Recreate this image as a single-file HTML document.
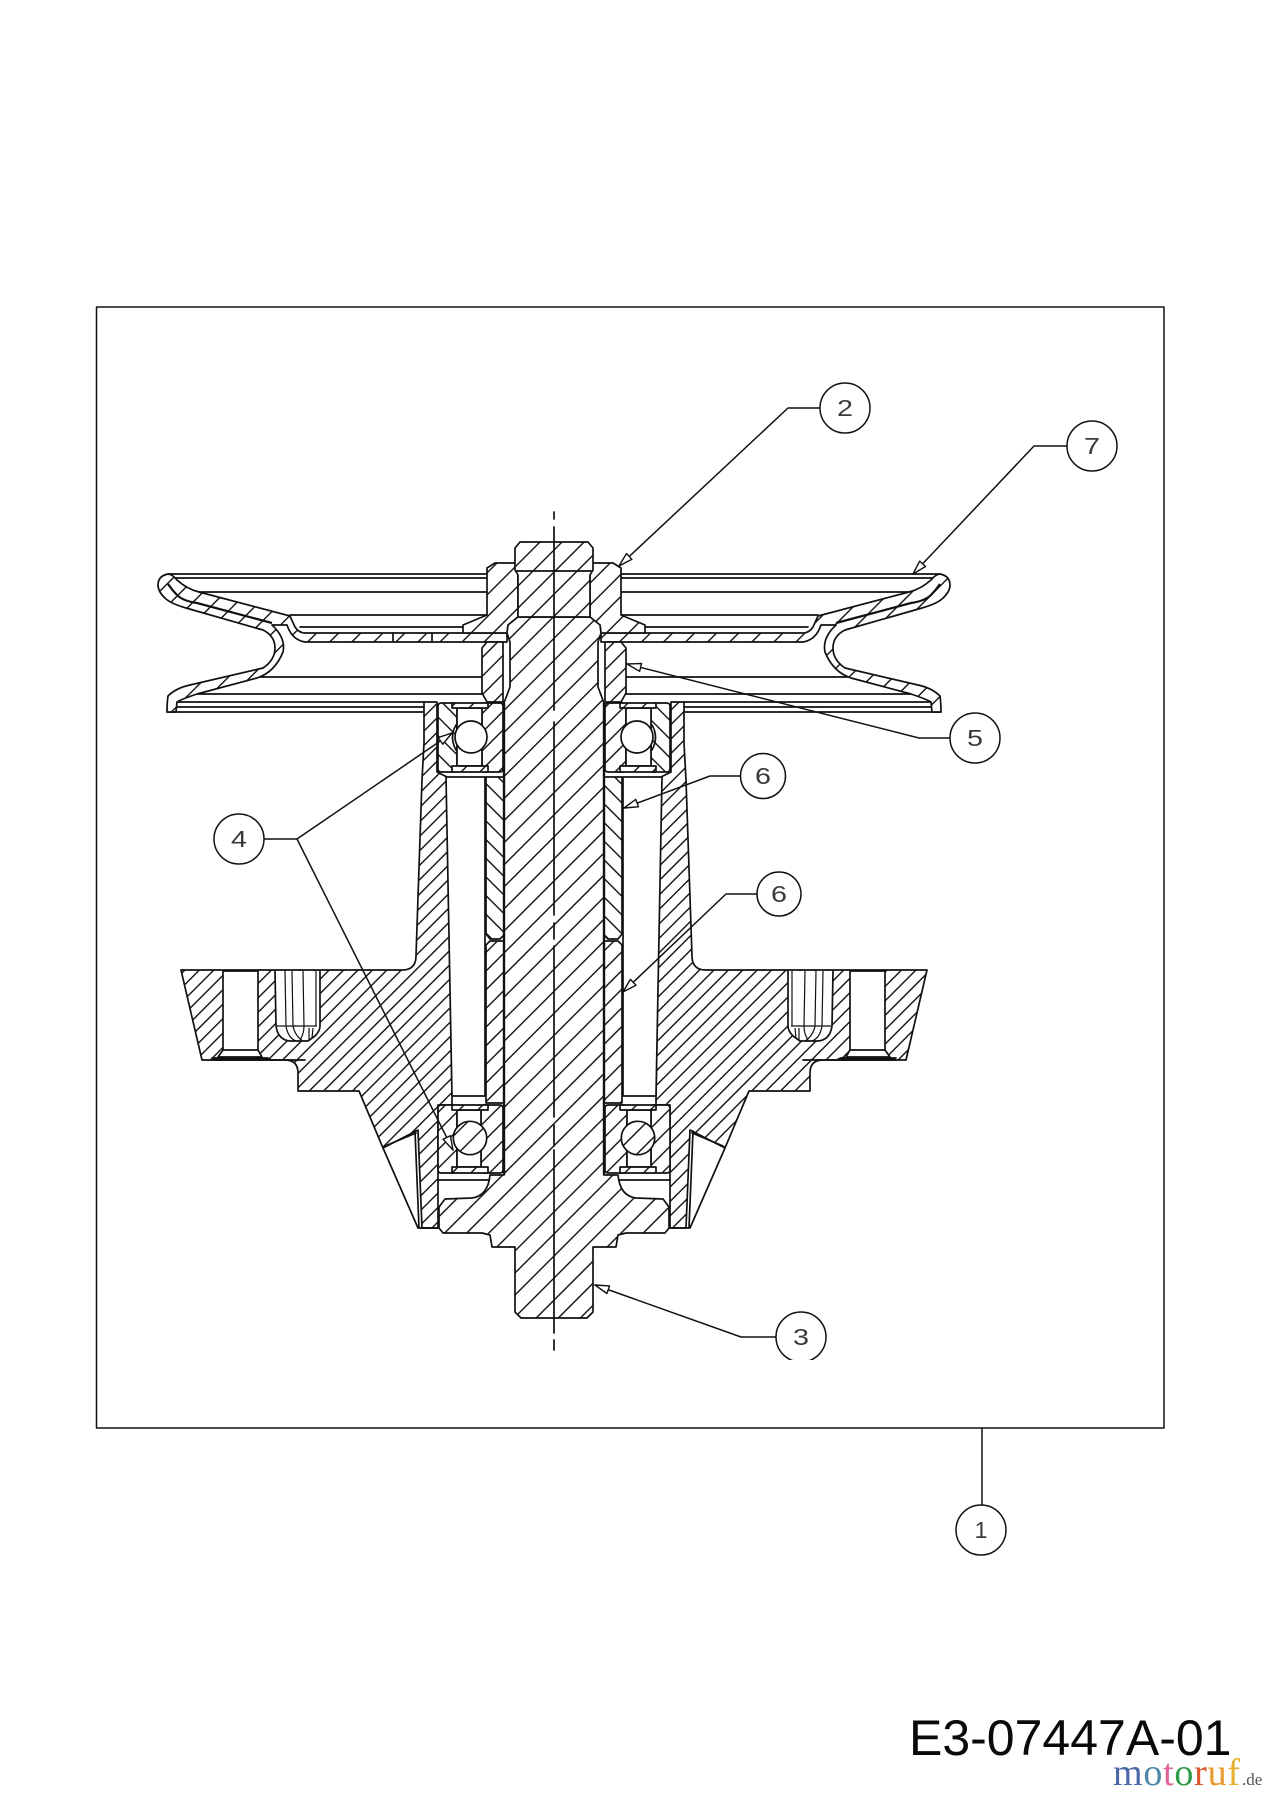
<!DOCTYPE html>
<html><head><meta charset="utf-8"><style>
html,body{margin:0;padding:0;background:#fff}
svg{display:block}
.o{stroke:#111;stroke-width:1.7;stroke-linejoin:round;stroke-linecap:round}
.n{fill:none}
.W{fill:#fff}
.h{fill:var(--h)}.c{fill:var(--c)}.m{fill:var(--m)}.w{fill:var(--w)}
.bt{font-family:"Liberation Sans",sans-serif;font-size:23px;fill:#3a3a3a;text-anchor:middle}
</style></head><body>
<svg xmlns="http://www.w3.org/2000/svg" width="1272" height="1800" viewBox="0 0 1272 1800">
<defs>
<pattern id="h1" patternUnits="userSpaceOnUse" width="10.2" height="10.2" patternTransform="rotate(45)"><rect width="10.2" height="10.2" fill="#fff"/><line x1="0" y1="0" x2="0" y2="10.2" stroke="#111" stroke-width="2.8"/></pattern>
<pattern id="h2" patternUnits="userSpaceOnUse" width="10.2" height="10.2" patternTransform="rotate(-45)"><rect width="10.2" height="10.2" fill="#fff"/><line x1="0" y1="0" x2="0" y2="10.2" stroke="#111" stroke-width="2.8"/></pattern>
<pattern id="m1" patternUnits="userSpaceOnUse" width="13.2" height="13.2" patternTransform="rotate(45)"><rect width="13.2" height="13.2" fill="#fff"/><line x1="0" y1="0" x2="0" y2="13.2" stroke="#111" stroke-width="2.8"/></pattern>
<pattern id="m2" patternUnits="userSpaceOnUse" width="13.2" height="13.2" patternTransform="rotate(-45)"><rect width="13.2" height="13.2" fill="#fff"/><line x1="0" y1="0" x2="0" y2="13.2" stroke="#111" stroke-width="2.8"/></pattern>
<pattern id="s1" patternUnits="userSpaceOnUse" width="15.6" height="15.6" patternTransform="rotate(45)"><rect width="15.6" height="15.6" fill="#fff"/><line x1="0" y1="0" x2="0" y2="15.6" stroke="#111" stroke-width="2.8"/></pattern>
<pattern id="s2" patternUnits="userSpaceOnUse" width="15.6" height="15.6" patternTransform="rotate(-45)"><rect width="15.6" height="15.6" fill="#fff"/><line x1="0" y1="0" x2="0" y2="15.6" stroke="#111" stroke-width="2.8"/></pattern>
<g id="half">
  <!-- background pulley edges -->
  <path class="o n" d="M168,574H487M172,578H487M193,592H487M290,615H487M300,627H463M257,677H482M197,694H482M177,702H424M177,707H424M167,712H424"/>
  <!-- pulley section -->
  <path class="o w" d="M168,574Q158,576 158,585Q158,592 166,599Q172,604 186,608L263,630Q275,636 275,648Q275,660 263,668L190,685Q176,688 168,696Q167,703 167,712L176,712L177,702Q182,699 197,694L257,678Q275,672 283,652Q286,638 272,625L287,625Q292,640 305,642L507,642L507,633L305,633Q299,633 295,627L290,616L199,592Q187,589 177,580Q172,574 168,574Z"/>
  <path class="n" stroke="#111" stroke-width="2.2" d="M168,584Q172,590 177,595Q183,601 197,603L272,623"/>
  <!-- spacer above bearing -->
  <path class="o m" d="M487,642L503,642L503,702L487,702L482,693L482,648Z"/>
  <!-- housing -->
  <path class="o h" d="M424,702L437,702L437,772L447,777L452,1096L452,1105L438,1105L438,1228L422,1228L418,1130L383,1148L359,1091L298,1091L298,1073Q298,1060 285,1060L202,1060L181,970L402,970Q416,970 416,956L422,780L424,743Z"/>
  <path class="o n" d="M383,1148L418,1228L438,1228M415,1131L419,1228M385,1146L416,1133M305,1060H212M212,1058H268"/>
  <!-- flange hole -->
  <path class="o W" d="M223,971H258V1050L262,1057H218L223,1050Z"/>
  <path class="o n" d="M223,1050H258M214,1059H270"/>
  <!-- pocket -->
  <path class="o W" d="M275,971L276,1026Q278,1040 290,1041L308,1041L315,1036Q320,1031 320,1026L320,971"/>
  <path d="M285,971L286,1026M292,971L293,1026M303,971L304,1026M316,971L316,1026M277,1026H317M286,1026Q288,1038 296,1041M293,1026Q295,1036 303,1041M304,1026Q304,1034 300,1040M309,1028V1040M313,1028L312,1038" fill="none" stroke="#111" stroke-width="1.2"/>
  <!-- bore ends -->
  <path class="o W" d="M446,777H485V1096H452Z"/>
  <!-- upper bearing -->
  <rect class="o c" x="438" y="703" width="19" height="69" rx="3"/>
  <rect class="o m" x="482" y="703" width="21" height="69" rx="3"/>
  <rect class="o W" x="457" y="708" width="25" height="58"/>
  <rect class="o m" x="452" y="703" width="36" height="5"/>
  <rect class="o m" x="452" y="766" width="36" height="6"/>
  <circle class="o W" cx="471" cy="737" r="16"/>
  <path class="o n" d="M456,725Q449,737 456,750"/>
  <!-- sleeves -->
  <path class="o c" d="M486,777L504,777L504,935L500,939L490,939L486,934Z"/>
  <path class="o m" d="M490,941L504,941L504,1103L486,1103L486,945Z"/>
  <!-- lower bearing -->
  <rect class="o m" x="438" y="1105" width="19" height="68" rx="3"/>
  <rect class="o m" x="481" y="1105" width="22" height="68" rx="3"/>
  <rect class="o W" x="457" y="1110" width="24" height="57"/>
  <rect class="o m" x="452" y="1105" width="36" height="5"/>
  <rect class="o m" x="452" y="1167" width="36" height="6"/>
  <circle class="o w" cx="470" cy="1138" r="16.7"/>
  <!-- boss -->
  <path class="o w" d="M487,568L495,563L515,563L518,570L518,617L508,625L507,633L463,633L463,625L487,615Z"/>
</g>
</defs>
<rect width="1272" height="1800" fill="#fff"/>
<rect class="o n" x="96.5" y="307" width="1067.5" height="1121" style="stroke-width:1.5"/>

<g style="--h:url(#h1);--c:url(#m2);--m:url(#m1);--w:url(#s1)"><use href="#half"/></g>
<g style="--h:url(#h2);--c:url(#m1);--m:url(#m2);--w:url(#s2)"><use href="#half" transform="matrix(-1 0 0 1 1108 0)"/></g>
<path class="o n" d="M393,633V642M432,633V642"/>

<!-- shaft -->
<path class="o" fill="url(#s1)" d="M518,617L508,625L507,633L510,642L510,687L504,703L504,1175L490,1175Q488,1196 472,1198L445,1199L439,1207L439,1228L443,1233L482,1233L490,1235L492,1247L515,1247L515,1312L521,1318L587,1318L593,1312L593,1247L616,1247L618,1235L626,1233L665,1233L669,1228L669,1207L663,1199L636,1198Q620,1196 618,1175L604,1175L604,703L598,687L598,642L601,633L600,625L590,617Z"/>
<path class="o n" d="M438,1180H489M619,1180H670"/>
<path fill="none" stroke="#111" stroke-width="2.4" d="M504,703V1175M604,703V1175"/>
<!-- nut -->
<path class="o" fill="url(#s1)" d="M515,548L520,542L588,542L593,548L593,570L590,575L590,617L518,617L518,575L515,570Z"/>
<path class="o n" d="M516,571H592"/>
<!-- centre line -->
<path class="o n" d="M554,512V519M554,527V710M554,722V915M554,923V939M554,946V1117M554,1125V1146M554,1150V1333M554,1340V1350"/>

<!-- leaders -->
<g class="o n" style="stroke-width:1.5">
<path d="M820,408H788L619,566"/>
<path d="M1067,446H1034L913,574"/>
<path d="M950,738H919L627,664"/>
<path d="M740,776H710L624,808"/>
<path d="M757,894H726L623,992"/>
<path d="M452,733L297,839H265M297,839L453,1150"/>
<path d="M776,1337H741L595,1285"/>
<path d="M982,1428V1505"/>
</g>
<!-- arrowheads -->
<g class="o W" style="stroke-width:1.4">
<polygon points="619,566 631.9,559.3 626.5,553.5"/>
<polygon points="913,574 925.5,566.5 919.7,561.1"/>
<polygon points="627,664 639.6,671.3 641.6,663.5"/>
<polygon points="624,808 638.5,806.8 635.7,799.4"/>
<polygon points="623,992 636,985.2 630.4,979.4"/>
<polygon points="452,733 442.8,744.2 438.2,737.6"/>
<polygon points="453,1150 450.3,1135.7 443.1,1139.3"/>
<polygon points="595,1285 606.9,1293.5 609.5,1285.9"/>
</g>
<!-- balloons -->
<g class="o W" style="stroke-width:1.5">
<circle cx="845" cy="408" r="25"/>
<circle cx="1092" cy="446" r="25"/>
<circle cx="975" cy="738" r="25"/>
<circle cx="763" cy="776" r="22.5"/>
<circle cx="779" cy="894" r="22"/>
<circle cx="239" cy="839" r="25"/>
<circle cx="801" cy="1337" r="25"/>
<circle cx="981" cy="1530" r="25"/>
</g>
<rect x="780" y="1360" width="42" height="4" fill="#fff"/>
<g class="bt">
<text transform="translate(845,416) scale(1.25,1)">2</text>
<text transform="translate(1092,454) scale(1.25,1)">7</text>
<text transform="translate(975,746) scale(1.25,1)">5</text>
<text transform="translate(763,784) scale(1.25,1)">6</text>
<text transform="translate(779,902) scale(1.25,1)">6</text>
<text transform="translate(239,847) scale(1.25,1)">4</text>
<text transform="translate(801,1345) scale(1.25,1)">3</text>
<text transform="translate(981,1538) scale(1,1)">1</text>
</g>
<text x="909" y="1755" font-family="'Liberation Sans',sans-serif" font-size="50" fill="#0a0a0a">E3-07447A-01</text>
<text x="1113" y="1785" font-family="'Liberation Serif',serif" font-size="38" textLength="127" lengthAdjust="spacing"><tspan fill="#4a68a8">m</tspan><tspan fill="#4f87a8">o</tspan><tspan fill="#e0609a">t</tspan><tspan fill="#2f9a4a">o</tspan><tspan fill="#d8552a">r</tspan><tspan fill="#e89a2a">u</tspan><tspan fill="#e8b030">f</tspan></text>
<text x="1242" y="1785" font-family="'Liberation Serif',serif" font-size="17" fill="#555">.de</text>
</svg>
</body></html>
